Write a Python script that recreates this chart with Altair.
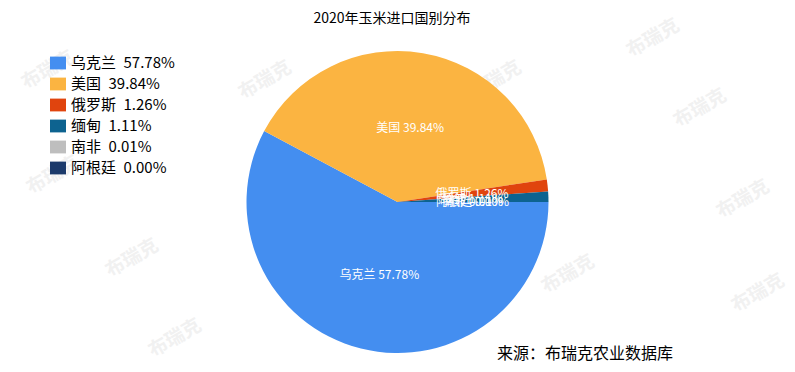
import math
import altair as alt
import pandas as pd

# ---- data ----
countries = ["乌克兰", "美国", "俄罗斯", "缅甸", "南非", "阿根廷"]
shares = [57.78, 39.84, 1.26, 1.11, 0.01, 0.00]
colors = ["#448ef0", "#fbb441", "#e0440e", "#0d6390", "#bebebe", "#1c3a6b"]

title_text = "2020年玉米进口国别分布"
source_text = "来源：布瑞克农业数据库"

# watermark positions (decoration)
wm_x = [40, 257, 645, 692, 124, 167, 735, 560, 750, 45, 487]
wm_y = [62, 72, 30, 100, 250, 330, 191, 266, 285, 167, 72]

FONT = "Noto Sans CJK SC"

legend_labels = [f"{c}\u2002{s:.2f}%" for c, s in zip(countries, shares)]
pie_labels = [f"{c} {s:.2f}%" for c, s in zip(countries, shares)]
df = pd.DataFrame({
    "country": countries,
    "share": shares,
    "idx": list(range(len(countries))),
    "legend": legend_labels,
    "lbl": pie_labels,
})

CX, CY, R = 389.5, 194, 151
theta_scale = alt.Scale(range=[math.pi / 2, math.pi / 2 + 2 * math.pi])

wm_df = pd.DataFrame({"x": wm_x, "y": wm_y, "t": ["布瑞克"] * len(wm_x)})
watermarks = alt.Chart(wm_df).mark_text(
    angle=330, fontSize=19, fontWeight="bold", color="#f1f1f1", font=FONT,
    align="center", baseline="middle"
).encode(
    x=alt.X("x:Q", scale=alt.Scale(domain=[0, 779], range=[0, 779]), axis=None),
    y=alt.Y("y:Q", scale=alt.Scale(domain=[0, 356], range=[0, 356]), axis=None),
    text="t:N",
)

pie = alt.Chart(df).mark_arc(outerRadius=R).encode(
    theta=alt.Theta("share:Q", stack=True, scale=theta_scale),
    order=alt.Order("idx:Q"),
    color=alt.Color(
        "legend:N",
        sort=legend_labels,
        scale=alt.Scale(domain=legend_labels, range=colors),
        legend=alt.Legend(
            orient="none", legendX=42, legendY=47, title=None,
            symbolType="M-1,-0.8H1V0.8H-1Z", symbolSize=256,
            symbolStrokeWidth=0, symbolOpacity=1,
            labelFontSize=15, labelFont=FONT, labelColor="#000000",
            rowPadding=5, labelOffset=5, padding=0, labelLimit=400,
        ),
    ),
    x=alt.value(CX),
    y=alt.value(CY),
)

labels = alt.Chart(df).mark_text(
    radius=75, fontSize=12, color="white", font=FONT,
    align="center", baseline="middle"
).encode(
    theta=alt.Theta("share:Q", stack=True, scale=theta_scale),
    order=alt.Order("idx:Q"),
    text="lbl:N",
    x=alt.value(CX),
    y=alt.value(CY),
)

title = alt.Chart(pd.DataFrame({"t": [title_text]})).mark_text(
    fontSize=14, font=FONT, color="#000000", align="center", baseline="middle"
).encode(text="t:N", x=alt.value(384), y=alt.value(11))

source = alt.Chart(pd.DataFrame({"t": [source_text]})).mark_text(
    fontSize=16, font=FONT, color="#000000", align="left", baseline="middle"
).encode(text="t:N", x=alt.value(489), y=alt.value(346))

chart = alt.layer(watermarks, pie, labels, title, source).resolve_scale(
    theta="shared"
).properties(
    width=779, height=356,
    autosize=alt.AutoSizeParams(type="none"),
    padding=0,
    background="white",
).configure_view(stroke=None)

chart.save("out.html", embed_options={"renderer": "svg", "actions": False})
